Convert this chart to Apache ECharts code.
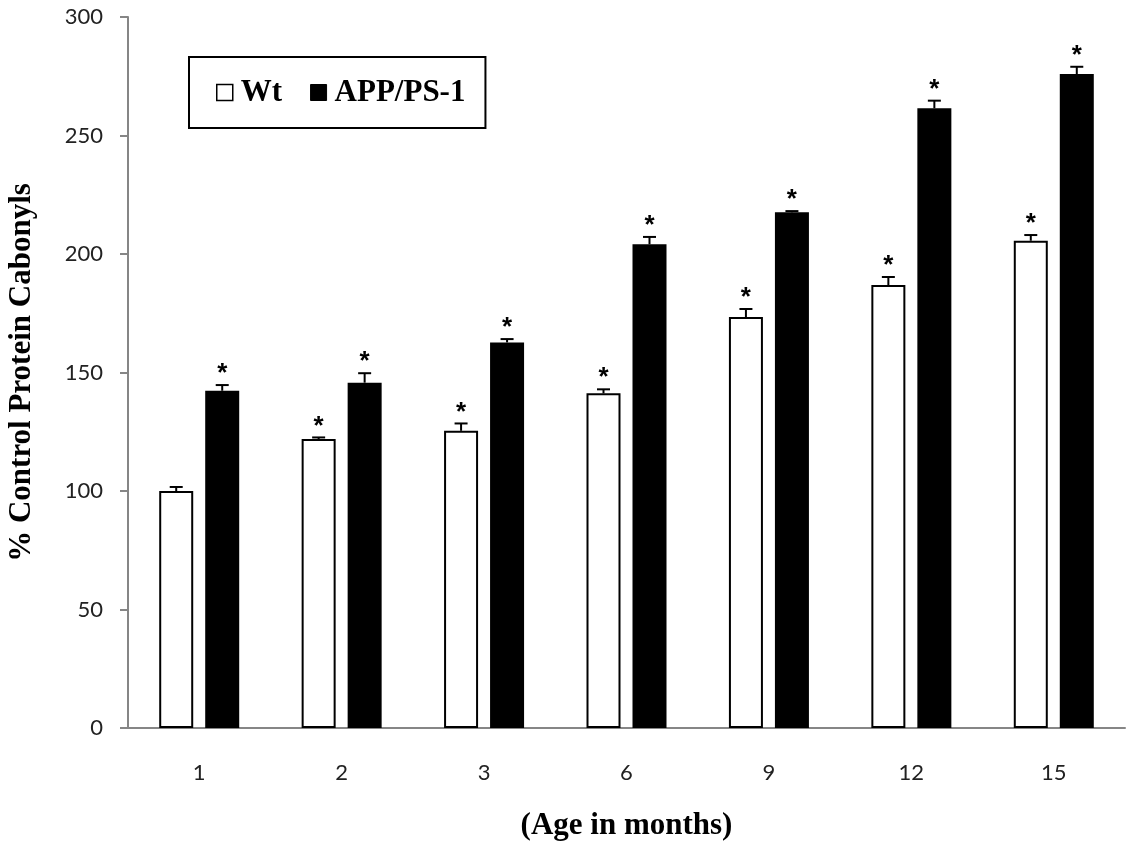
<!DOCTYPE html>
<html>
<head>
<meta charset="utf-8">
<script src="https://cdn.jsdelivr.net/npm/echarts@6/dist/echarts.min.js"></script>
<style>
html,body{margin:0;padding:0;background:#fff;}
#chart{width:1126px;height:843px;}
</style>
</head>
<body>
<div id="chart"></div>
<script>
var categories = ['1', '2', '3', '6', '9', '12', '15'];
var wtValues = [100, 121.9, 125.4, 141.2, 173.4, 186.9, 205.6];
var wtErrors = [1.7, 0.7, 3.1, 1.7, 3.4, 3.4, 2.4];
var wtSignificant = [false, true, true, true, true, true, true];
var appValues = [142.3, 145.7, 162.7, 204.1, 217.6, 261.5, 275.9];
var appErrors = [2.4, 4.0, 1.4, 3.1, 0.5, 3.2, 3.1];
var appSignificant = [true, true, true, true, true, true, true];
var yTicks = [0, 50, 100, 150, 200, 250, 300];

var BAR_W = 34, BAR_GAP_PX = 12;
var HALF_OFFSET = (BAR_W + BAR_GAP_PX) / 2;
var SERIF = '"Liberation Serif", "Times New Roman", serif';
var SANS = 'Lato, "Open Sans", sans-serif';

function errData(vals, errs, sig) {
  return vals.map(function (v, i) { return [i, v, errs[i], sig[i] ? 1 : 0]; });
}

function makeErrRender(dir) {
  return function (params, api) {
    var idx = api.value(0), v = api.value(1), e = api.value(2), s = api.value(3);
    var base = api.coord([idx, v]);
    var top = api.coord([idx, v + e]);
    var x = base[0] + dir * HALF_OFFSET;
    var children = [
      { type: 'line', shape: { x1: x, y1: base[1], x2: x, y2: top[1] },
        style: { stroke: '#000', lineWidth: 2 } },
      { type: 'line', shape: { x1: x - 6.5, y1: top[1], x2: x + 6.5, y2: top[1] },
        style: { stroke: '#000', lineWidth: 2 } }
    ];
    if (s) {
      children.push({ type: 'text', x: x, y: top[1] - 11,
        style: { text: '*', fill: '#000', font: 'bold 26px "Liberation Sans"',
          align: 'center', verticalAlign: 'middle' } });
    }
    return { type: 'group', children: children };
  };
}

var chart = echarts.init(document.getElementById('chart'), null, { renderer: 'canvas' });
chart.setOption({
  animation: false,
  backgroundColor: '#fff',
  grid: { left: 128, right: 1, top: 17, bottom: 115, containLabel: false, outerBoundsMode: 'none' },
  legend: {
    left: 189, top: 57,
    orient: 'horizontal',
    padding: [20, 20, 20, 27],
    borderColor: '#000', borderWidth: 2,
    itemWidth: 16, itemHeight: 16, itemGap: 28,
    textStyle: { fontFamily: SERIF, fontWeight: 'bold', fontSize: 31, color: '#000', padding: [0, 0, 0, 3] },
    data: [
      { name: 'Wt', icon: 'rect', itemStyle: { color: '#fff', borderColor: '#000', borderWidth: 1.5 } },
      { name: 'APP/PS-1', icon: 'rect', itemStyle: { color: '#000', borderColor: '#000', borderWidth: 1 } }
    ]
  },
  xAxis: {
    type: 'category',
    data: categories,
    name: '(Age in months)',
    nameLocation: 'middle',
    nameGap: 82,
    nameTextStyle: { fontFamily: SERIF, fontWeight: 'bold', fontSize: 31, color: '#000' },
    axisLine: { lineStyle: { color: '#868686', width: 2 } },
    axisTick: { show: false },
    axisLabel: { margin: 34, fontFamily: SANS, fontSize: 22, color: '#222' },
    splitLine: { show: false }
  },
  yAxis: {
    type: 'value',
    min: 0, max: 300, interval: 50,
    name: '% Control Protein Cabonyls',
    nameLocation: 'middle',
    nameRotate: 90,
    nameGap: 91,
    nameTextStyle: { fontFamily: SERIF, fontWeight: 'bold', fontSize: 31, color: '#000' },
    axisLine: { show: true, lineStyle: { color: '#868686', width: 2 } },
    axisTick: { show: true, inside: false, length: 8, lineStyle: { color: '#868686', width: 2 } },
    axisLabel: { margin: 25, fontFamily: SANS, fontSize: 22, color: '#222',
      formatter: function (v) { return yTicks.indexOf(v) >= 0 ? String(v) : ''; } },
    splitLine: { show: false }
  },
  series: [
    { name: 'Wt', type: 'bar', data: wtValues, barWidth: BAR_W, barGap: (BAR_GAP_PX / BAR_W * 100) + '%',
      itemStyle: { color: '#fff', borderColor: '#000', borderWidth: 2 }, z: 2 },
    { name: 'APP/PS-1', type: 'bar', data: appValues, barWidth: BAR_W,
      itemStyle: { color: '#000', borderColor: '#000', borderWidth: 2 }, z: 2 },
    { name: 'WtErr', type: 'custom', data: errData(wtValues, wtErrors, wtSignificant),
      renderItem: makeErrRender(-1), z: 5, silent: true },
    { name: 'AppErr', type: 'custom', data: errData(appValues, appErrors, appSignificant),
      renderItem: makeErrRender(1), z: 5, silent: true }
  ]
});
</script>
</body>
</html>
